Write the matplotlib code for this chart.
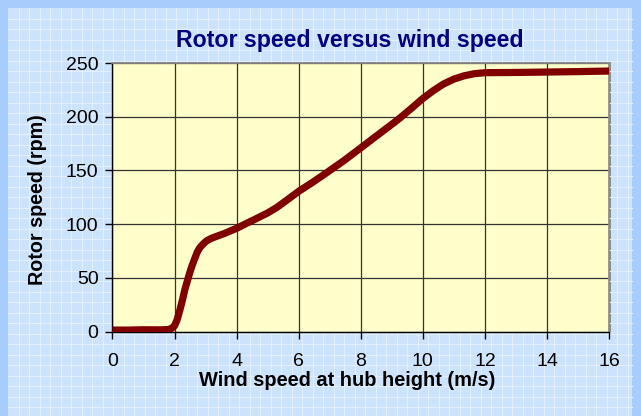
import matplotlib
matplotlib.use("Agg")
import matplotlib.pyplot as plt
from matplotlib.patches import Rectangle
import numpy as np

plt.rcParams['font.family'] = ['Liberation Sans', 'DejaVu Sans']

wind_speed = [0, 0.5, 1.0, 1.5, 1.8, 1.9, 2.0, 2.08, 2.17, 2.25, 2.33, 2.41, 2.49, 2.57, 2.65, 2.73, 2.81,
              2.9, 3.03, 3.18, 3.36, 3.6, 4.0, 4.3, 4.64, 5.0, 5.29, 5.6, 6.0, 6.45, 6.89, 7.45, 8.0,
              8.5, 9.05, 9.27, 9.6, 10.0, 10.35, 10.67, 11.0, 11.32, 11.65, 12.0, 13.0, 14.0, 15.0, 16.0]
rotor_speed = [1.5, 1.5, 1.8, 1.7, 2.0, 3.0, 5.5, 11, 20, 29, 39, 47, 55, 62, 68, 74, 78,
               81, 84.5, 86.8, 88.8, 91.3, 96.2, 100.5, 105.3, 110.5, 115.5, 122, 130.6, 139, 147.7, 159, 171,
               182, 194, 199, 207, 217, 224.5, 230.5, 235, 238, 240, 241, 241.2, 241.6, 242, 242.5]

title = "Rotor speed versus wind speed"
xlabel = "Wind speed at hub height (m/s)"
ylabel = "Rotor speed (rpm)"
xticks = [0, 2, 4, 6, 8, 10, 12, 14, 16]
yticks = [0, 50, 100, 150, 200, 250]

W, H = 641, 416
fig = plt.figure(figsize=(W / 100, H / 100), dpi=100)
fig.patch.set_facecolor('#a6cdfb')

# inner panel with fine grid pattern
bg = fig.add_axes([0, 0, 1, 1])
bg.set_xlim(0, W)
bg.set_ylim(H, 0)
bg.axis('off')
bg.add_patch(Rectangle((8, 8), 624, H - 8, facecolor='#cce3fd', edgecolor='none'))
for gx in np.arange(8 + 10.5, 632, 10.5):
    bg.plot([gx, gx], [8, H], color='#e2effe', lw=0.8)
for gy in np.arange(8 + 10.5, H, 10.5):
    bg.plot([8, 632], [gy, gy], color='#e2effe', lw=0.8)
# shadow of plot area
bg.add_patch(Rectangle((114, 61), 497, 271, facecolor='#8c8c8c', edgecolor='none'))

x0, x1, y0, y1 = 112.5, 609, 63, 331.7
ax = fig.add_axes([x0 / W, 1 - y1 / H, (x1 - x0) / W, (y1 - y0) / H])
ax.set_facecolor('#ffffcc')
ax.plot(wind_speed, rotor_speed, color='#800000', lw=5.2, solid_capstyle='butt',
        solid_joinstyle='round', zorder=3)
ax.set_xlim(0, 16)
ax.set_ylim(0, 250)
ax.set_xticks(xticks)
ax.set_yticks(yticks)
ax.grid(True, color='#333333', lw=0.9)
ax.set_axisbelow(True)
for s in ['top', 'right']:
    ax.spines[s].set_color('#8c8c8c')
    ax.spines[s].set_linewidth(1.2)
for s in ['left', 'bottom']:
    ax.spines[s].set_color('black')
    ax.spines[s].set_linewidth(1.0)
ax.tick_params(direction='out', length=5, width=1, labelsize=14, colors='black', pad=5)
ax.tick_params(axis='x', pad=10)

fig.text(350 / W, 1 - 40 / H, title, ha='center', va='center', fontsize=16.7,
         fontweight='bold', color='#000080')
fig.text(347 / W, 1 - 381 / H, xlabel, ha='center', va='center', fontsize=14.4,
         fontweight='bold', color='black')
fig.text(38 / W, 1 - 200 / H, ylabel, ha='center', va='center', fontsize=14.2,
         fontweight='bold', color='black', rotation=90)

fig.savefig('out.png', dpi=100, facecolor=fig.get_facecolor())
